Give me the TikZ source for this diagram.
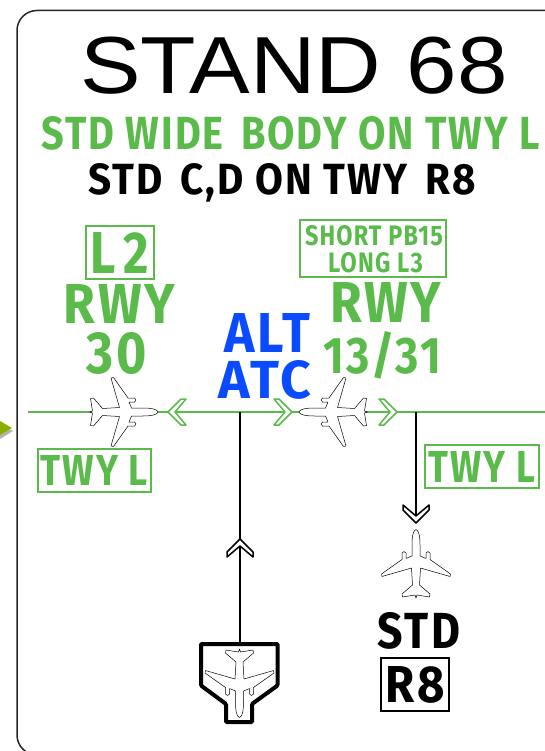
\documentclass[tikz,border=0pt]{standalone}
\usepackage{graphicx}
\usepackage{fontspec}
\setmainfont{Liberation Sans}
\newfontfamily\signfont[LetterSpace=5]{Fira Sans}
\definecolor{signgreen}{HTML}{5ABB4B}
\definecolor{signblue}{HTML}{0A4BFF}
\definecolor{pointer}{HTML}{8DB000}
\newcommand{\signtext}[3]{\resizebox{#1pt}{#2pt}{\signfont\bfseries #3}}
\tikzset{
    greenbox/.style={draw=signgreen, line width=1.2pt, text=signgreen, inner sep=0pt},
    blackbox/.style={draw=black, line width=1.2pt, inner sep=0pt},
    label/.style={inner sep=0pt, anchor=base},
    plane/.pic={
        \draw[fill=white, line width=.5pt, line join=round]
            (0,-33.5)..controls (3,-33) and (4,-26)..(4,-18)--(4,-7)--(10,-4.5)--(10,-10)
            --(12,-11.5)--(14,-10)--(14,-3.5)--(34.5,11)--(34,13.5)--(4.5,5)--(3.5,22)
            --(14,31)--(13.5,34)--(1,32)--(0,35)--(-1,32)--(-13.5,34)--(-14,31)--(-3.5,22)
            --(-4.5,5)--(-34,13.5)--(-34.5,11)--(-14,-3.5)--(-14,-10)--(-12,-11.5)--(-10,-10)
            --(-10,-4.5)--(-4,-7)--(-4,-18)..controls (-4,-26) and (-3,-33)..(0,-33.5)--cycle;
    },
    chevron/.pic={
        \draw[fill=white, line width=1.5pt, line join=round, pic actions]
            (0,-8)--(13,5)--(13,10)--(0,-1)--(-13,10)--(-13,5)--cycle;
    }
}
\begin{document}
\begin{tikzpicture}[x=1pt, y=-1pt]
\useasboundingbox (0,0) rectangle (545,751);
% frame
\draw[line width=1.5pt, black!85, rounded corners=20pt](570,10.5)--(17,10.5)--(17,755)--(570,755);
\fill[black!30](0,425)--(13,431)--(0,439)--cycle;
\fill[pointer](0,421)--(12,428)--(0,435)--cycle;

% titles
\node[label] (title) at (294,94) {\resizebox{427pt}{56.5pt}{STAND 68}};
\node[label, text=signgreen] (stdwide) at (290.5,150) {\signtext{498}{33}{STD WIDE\hspace{.15em} BODY ON TWY L}};
\node[label] (stdcd) at (282,194.5) {\signtext{387}{31}{STD\hspace{.15em} C,D ON TWY\hspace{.15em} R8}};

% left column
\node[greenbox, minimum width=68pt, minimum height=53pt, text=signgreen] (boxl2) at (120,252.5) {\signtext{58}{41}{L\hspace{.15em}2}};
\node[label, text=signgreen] (rwyl) at (119.5,323) {\signtext{111}{39}{RWY}};
\node[label, text=signgreen] (rwy30) at (117,373) {\signtext{60}{41}{30}};

% right column
\node[greenbox, minimum width=146pt, minimum height=57pt] (boxshort) at (373,248.5) {};
\node[label, text=signgreen] (short) at (374,245) {\signtext{138}{20}{SHORT PB15}};
\node[label, text=signgreen] (long) at (375.5,272) {\signtext{95}{20}{LONG L3}};
\node[label, text=signgreen] (rwyr) at (385.5,322) {\signtext{111}{40}{RWY}};
\node[label, text=signgreen] (rwy1331) at (382.5,373) {\signtext{117}{42}{13/31}};

% middle
\node[label, text=signblue] (alt) at (267.5,352) {\signtext{85}{39}{ALT}};
\node[label, text=signblue] (atc) at (265,398) {\signtext{92}{38}{ATC}};

% taxi lines
\coordinate (linestart) at (28,412);
\coordinate (lineend) at (545,412);
\coordinate (jointa) at (240,412);
\coordinate (jointb) at (416,412);
\coordinate (pockettop) at (240,642);
\coordinate (chevtip) at (416,523);
\draw[signgreen, line width=1.5pt](linestart)--(lineend);
\draw[line width=1.5pt](jointa)--(pockettop);
\draw[line width=1.5pt](jointb)--(chevtip);

\pic[rotate=90, signgreen] (chevl) at (176,412) {chevron};
\pic[rotate=-90, signgreen] (chevm) at (284,412) {chevron};
\pic[rotate=-90, signgreen] (chevr) at (389,412) {chevron};
\pic[black] (chevup) at (240,547) {chevron};
\pic[rotate=180, black] (chevdown) at (416,515) {chevron};

\pic[rotate=-90] (planel) at (124.5,412) {plane};
\pic[rotate=90] (planer) at (332.5,412) {plane};
\pic (planestd) at (416,563) {plane};

% stand pocket
\draw[line width=4pt, rounded corners=1pt](201,644)--(277.5,644)--(277.5,685.5)--(252,704)--(252,722)--(226,722)--(226,704)--(201,685.5)--cycle;
\pic[rotate=180] (planepocket) at (239.5,684) {plane};

% lower labels
\node[greenbox, minimum width=113pt, minimum height=43pt] (twyl) at (94.5,470.5) {\signtext{107}{30}{TWY L}};
\node[greenbox, minimum width=114pt, minimum height=43pt] (twyr) at (482,466.5) {\signtext{106}{31}{TWY L}};
\node[label] (std) at (419,648) {\signtext{82}{36}{STD}};
\node[blackbox, minimum width=68pt, minimum height=53pt] (r8) at (415,684.5) {\signtext{59}{36}{R8}};
\end{tikzpicture}
\end{document}
